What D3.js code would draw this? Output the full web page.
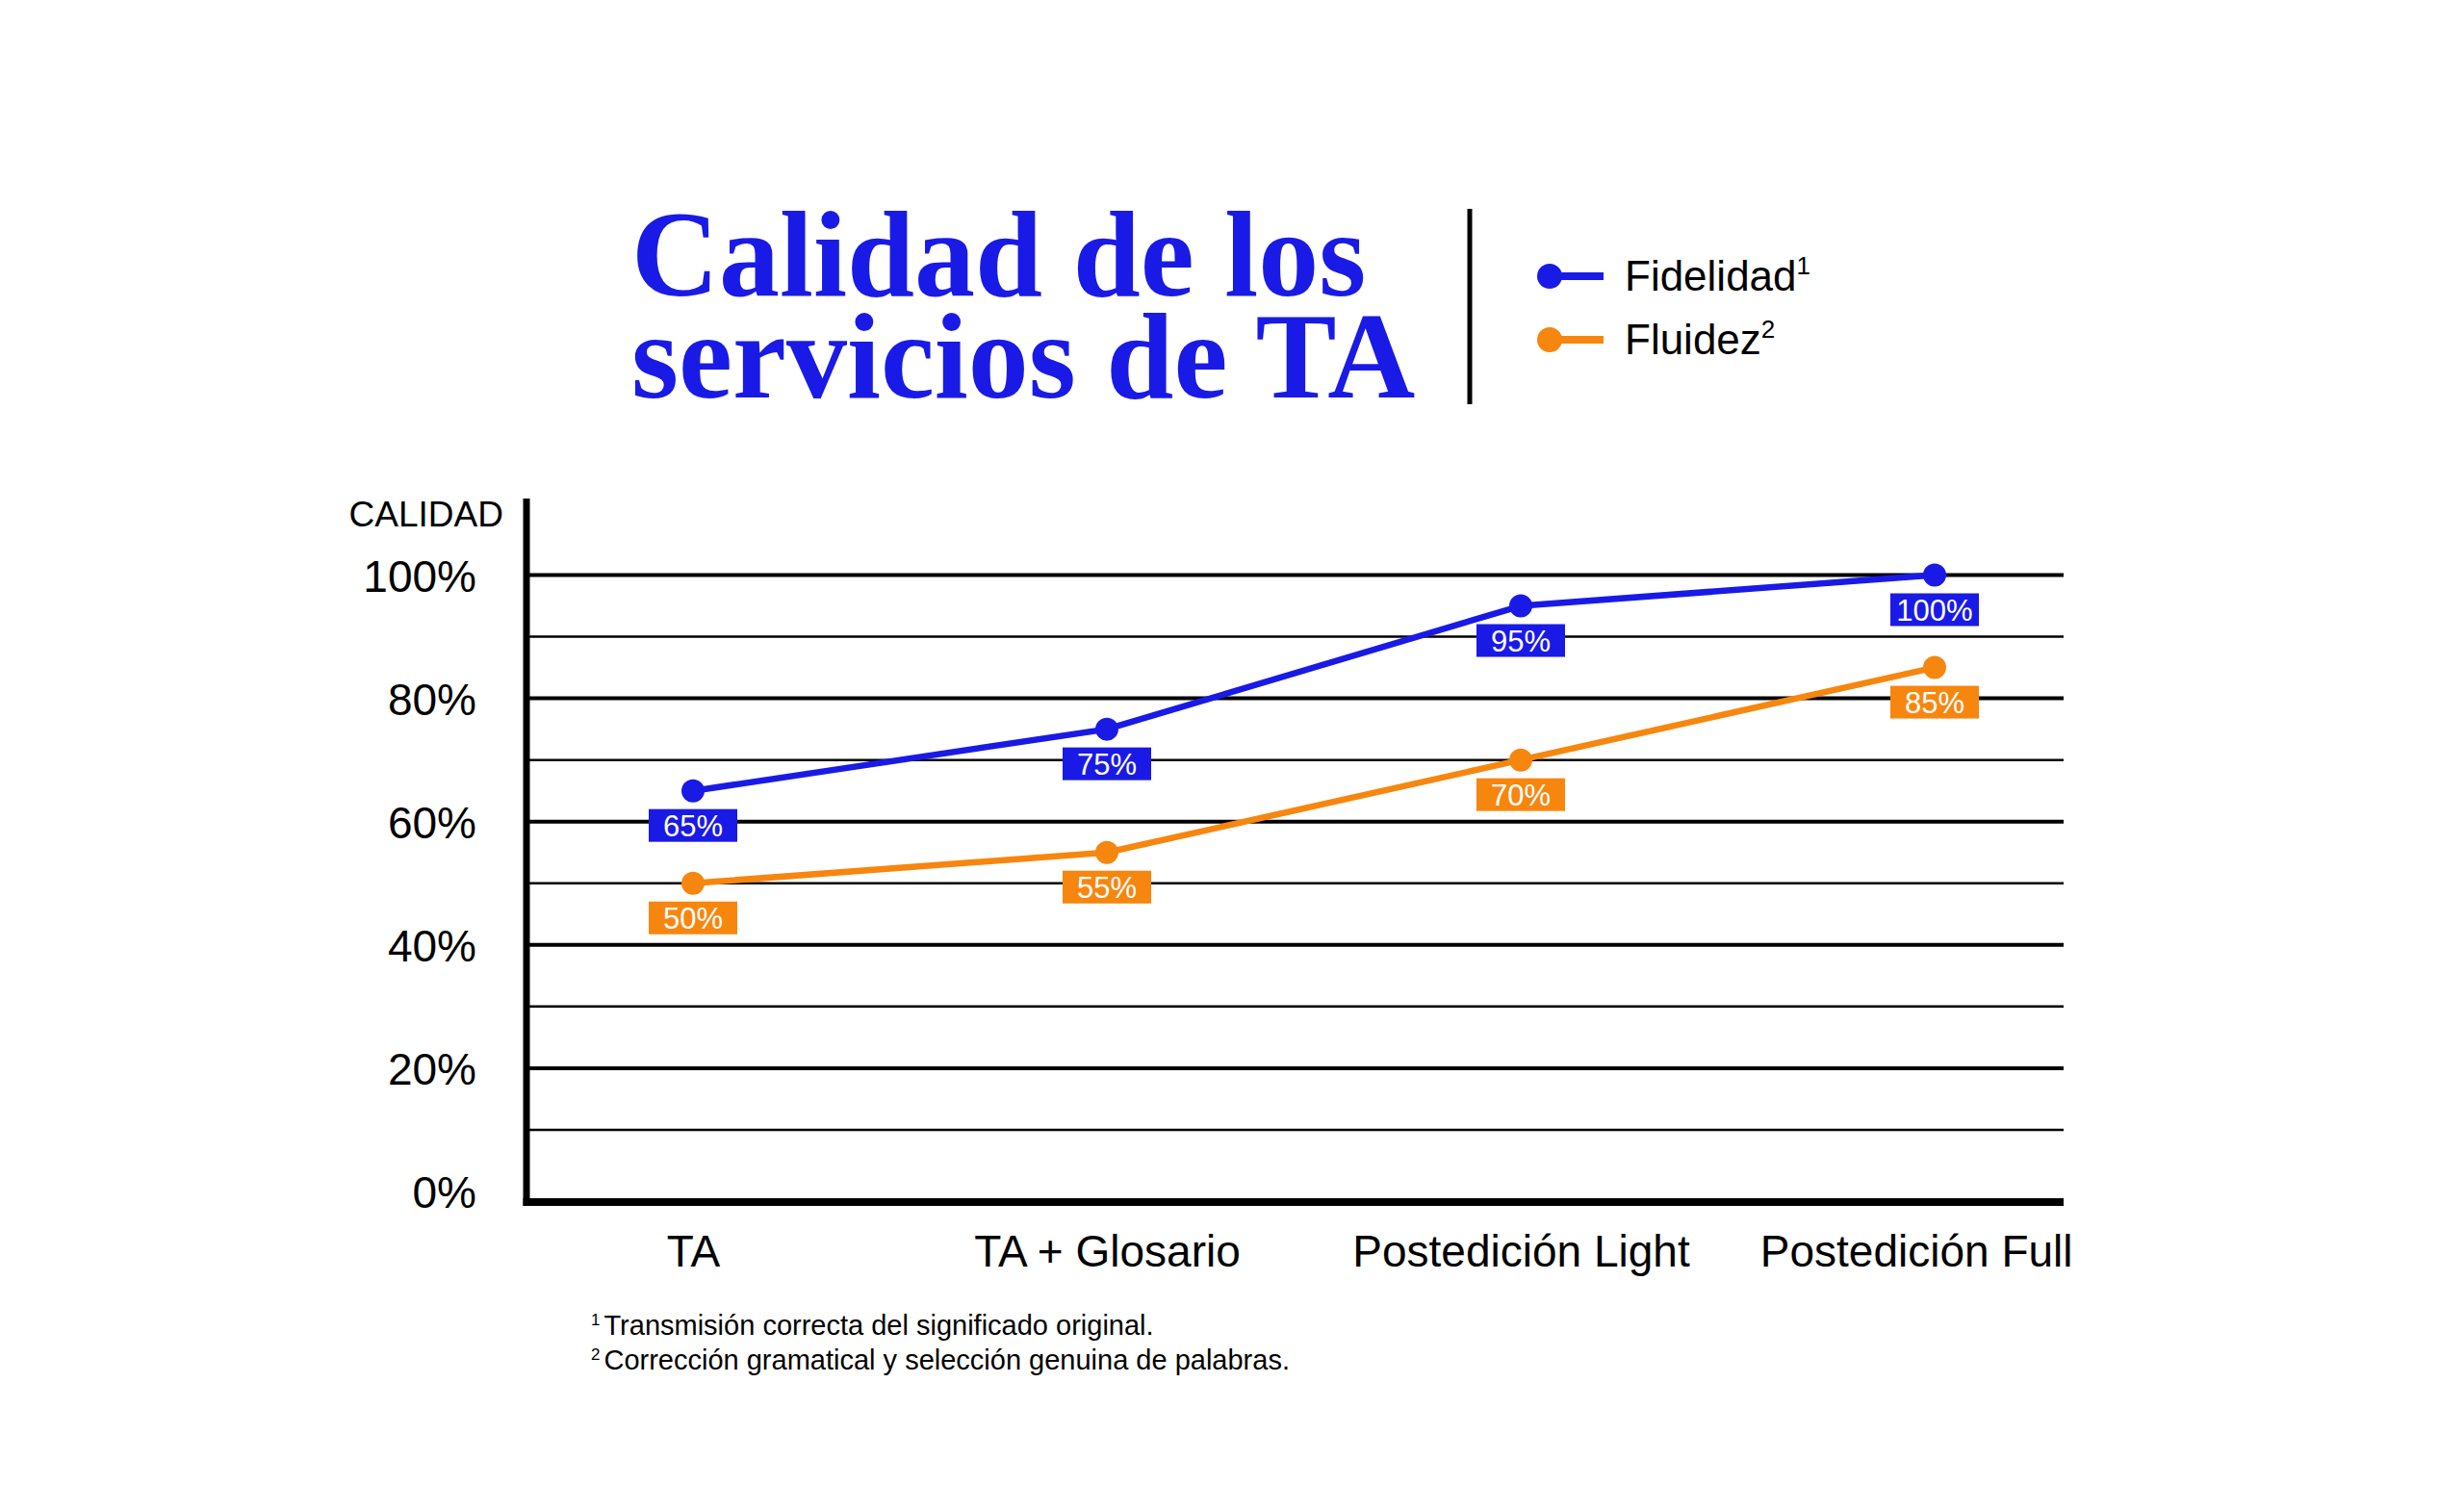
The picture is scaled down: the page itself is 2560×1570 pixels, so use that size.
<!DOCTYPE html>
<html>
<head>
<meta charset="utf-8">
<script src="https://cdn.jsdelivr.net/npm/d3@7"></script>
<style>
  body { margin: 0; background: #fff; }
  svg { display: block; }
</style>
</head>
<body>
<div id="chart"></div>
<script>
// Data
const categories = ["TA", "TA + Glosario", "Postedición Light", "Postedición Full"];
const fidelidad = [65, 75, 95, 100];
const fluidez = [50, 55, 70, 85];
const majorTicks = [0, 20, 40, 60, 80, 100];
const minorTicks = [10, 30, 50, 70, 90];
const footnotes = [
    ["1", "Transmisión correcta del significado original."],
    ["2", "Corrección gramatical y selección genuina de palabras."]
];

const BLUE = "#1a1ae6";
const ORANGE = "#f7860f";
const SANS = "'Liberation Sans', Arial, sans-serif";

const width = 2560, height = 1570;

const svg = d3.select("#chart").append("svg")
    .attr("width", width)
    .attr("height", height)
    .style("background", "#fff");

// Plot area
const plotLeft = 547, plotRight = 2144;
const plotTop = 518, axisBottom = 1249;

const x = d3.scalePoint()
    .domain(categories)
    .range([plotLeft + 173, plotRight - 134]);

const y = d3.scaleLinear()
    .domain([0, 100])
    .range([1238, 597.5]);

// Title
const title = svg.append("text")
    .attr("font-family", "'Liberation Serif', 'Times New Roman', serif")
    .attr("font-weight", "bold")
    .attr("font-size", 126)
    .attr("fill", BLUE);
title.append("tspan").attr("x", 656).attr("y", 307).text("Calidad de los");
title.append("tspan").attr("x", 656).attr("y", 413).text("servicios de TA");

// Divider
svg.append("line")
    .attr("x1", 1527).attr("x2", 1527)
    .attr("y1", 217).attr("y2", 420)
    .attr("stroke", "#000")
    .attr("stroke-width", 5);

// Legend
const legend = svg.append("g").attr("transform", "translate(1610,0)");
[["Fidelidad", "1", BLUE, 287], ["Fluidez", "2", ORANGE, 353]].forEach(([name, sup, color, ly]) => {
    legend.append("line")
        .attr("x1", 0).attr("x2", 56)
        .attr("y1", ly).attr("y2", ly)
        .attr("stroke", color)
        .attr("stroke-width", 8);
    legend.append("circle")
        .attr("cx", 0).attr("cy", ly).attr("r", 13)
        .attr("fill", color);
    const t = legend.append("text")
        .attr("x", 78).attr("y", ly + 15)
        .attr("font-family", SANS)
        .attr("font-size", 44)
        .attr("fill", "#000")
        .text(name);
    t.append("tspan")
        .attr("dy", -17)
        .attr("font-size", 26)
        .text(sup);
});

// Gridlines
svg.append("g")
    .selectAll("line")
    .data(majorTicks.filter(d => d > 0))
    .join("line")
    .attr("x1", plotLeft).attr("x2", plotRight)
    .attr("y1", d => y(d)).attr("y2", d => y(d))
    .attr("stroke", "#000")
    .attr("stroke-width", 4);

svg.append("g")
    .selectAll("line")
    .data(minorTicks)
    .join("line")
    .attr("x1", plotLeft).attr("x2", plotRight)
    .attr("y1", d => y(d)).attr("y2", d => y(d))
    .attr("stroke", "#000")
    .attr("stroke-width", 2.5);

// Axes lines
svg.append("line")
    .attr("x1", plotLeft).attr("x2", plotLeft)
    .attr("y1", plotTop).attr("y2", axisBottom + 4)
    .attr("stroke", "#000")
    .attr("stroke-width", 7);

svg.append("line")
    .attr("x1", plotLeft - 3.5).attr("x2", plotRight)
    .attr("y1", axisBottom).attr("y2", axisBottom)
    .attr("stroke", "#000")
    .attr("stroke-width", 8);

// Y tick labels
const yAxis = svg.append("g")
    .attr("transform", `translate(${plotLeft - 52},0)`)
    .call(d3.axisLeft(y)
        .tickValues(majorTicks)
        .tickFormat(d => d + "%")
        .tickSize(0)
        .tickPadding(0));
yAxis.select(".domain").remove();
yAxis.selectAll("text")
    .attr("font-family", SANS)
    .attr("font-size", 46)
    .attr("fill", "#000")
    .attr("dy", "0.36em");

svg.append("text")
    .attr("x", 523).attr("y", 547)
    .attr("text-anchor", "end")
    .attr("font-family", SANS)
    .attr("font-size", 37)
    .attr("fill", "#000")
    .text("CALIDAD");

// X labels
const xAxis = svg.append("g")
    .attr("transform", `translate(0,${axisBottom})`)
    .call(d3.axisBottom(x).tickSize(0).tickPadding(0));
xAxis.select(".domain").remove();
xAxis.selectAll("text")
    .attr("font-family", SANS)
    .attr("font-size", 46)
    .attr("fill", "#000")
    .attr("dy", 0)
    .attr("y", 67);

// keep the last label from running past the plot's right edge
xAxis.selectAll(".tick").each(function(d) {
    const t = d3.select(this).select("text");
    const w = t.node().getComputedTextLength();
    const overflow = x(d) + w / 2 - (plotRight + 9);
    if (overflow > 0) t.attr("x", -overflow);
});

// Series
const series = [
    { name: "Fidelidad", values: fidelidad, color: BLUE },
    { name: "Fluidez", values: fluidez, color: ORANGE }
];

const line = d3.line()
    .x((d, i) => x(categories[i]))
    .y(d => y(d));

series.forEach(s => {
    const g = svg.append("g");
    g.append("path")
        .datum(s.values)
        .attr("d", line)
        .attr("fill", "none")
        .attr("stroke", s.color)
        .attr("stroke-width", 6.5)
        .attr("stroke-linejoin", "round");

    g.selectAll("circle")
        .data(s.values)
        .join("circle")
        .attr("cx", (d, i) => x(categories[i]))
        .attr("cy", d => y(d))
        .attr("r", 12)
        .attr("fill", s.color);

    const labels = g.selectAll("g.lbl")
        .data(s.values)
        .join("g")
        .attr("class", "lbl")
        .attr("transform", (d, i) => `translate(${x(categories[i])},${y(d) + 19})`);

    labels.append("rect")
        .attr("x", -46).attr("y", 0)
        .attr("width", 92).attr("height", 34)
        .attr("fill", s.color);

    labels.append("text")
        .attr("x", 0).attr("y", 28)
        .attr("text-anchor", "middle")
        .attr("font-family", SANS)
        .attr("font-size", 31)
        .attr("fill", "#fff")
        .text(d => d + "%");
});

// Footnotes
footnotes.forEach(([sup, txt], i) => {
    const t = svg.append("text")
        .attr("x", 614).attr("y", 1387 + i * 36)
        .attr("font-family", SANS)
        .attr("font-size", 29)
        .attr("fill", "#000");
    t.append("tspan")
        .attr("font-size", 17)
        .attr("dy", -10)
        .text(sup);
    t.append("tspan")
        .attr("dy", 10)
        .attr("dx", 4)
        .text(txt);
});
</script>
</body>
</html>
